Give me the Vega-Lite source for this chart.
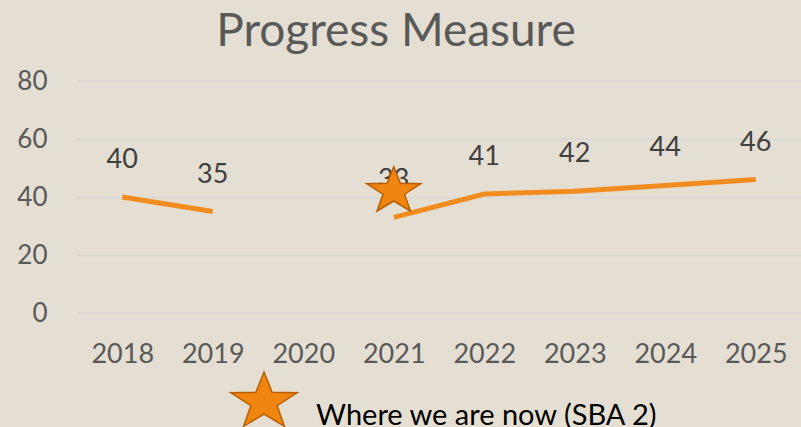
{
  "$schema": "https://vega.github.io/schema/vega-lite/v6.json",
  "autosize": "none",
  "width": 724,
  "height": 232,
  "padding": {"left": 77, "top": 81, "right": 0, "bottom": 114},
  "background": "#E4DED3",
  "config": {
    "view": {"stroke": null},
    "axis": {"labelFont": "Lato", "labelColor": "#595959", "labelFontSize": 26, "domain": false, "ticks": false, "title": null}
  },
  "title": {"text": "Progress Measure", "fontSize": 46, "font": "Lato", "fontWeight": "normal", "color": "#595959", "anchor": "middle", "dx": -43, "offset": 12},
  "data": {"values": [
      {"year": "2018", "value": 40, "seg": "a", "kind": "line", "series": "Progress"},
      {"year": "2019", "value": 35, "seg": "a", "kind": "line", "series": "Progress"},
      {"year": "2021", "value": 33, "seg": "b", "kind": "line", "series": "Progress"},
      {"year": "2022", "value": 41, "seg": "b", "kind": "line", "series": "Progress"},
      {"year": "2023", "value": 42, "seg": "b", "kind": "line", "series": "Progress"},
      {"year": "2024", "value": 44, "seg": "b", "kind": "line", "series": "Progress"},
      {"year": "2025", "value": 46, "seg": "b", "kind": "line", "series": "Progress"},
      {"year": "2021", "value": 42, "seg": "c", "kind": "star", "series": "Where we are now (SBA 2)"}
  ]},
  "encoding": {
    "x": {"field": "year", "type": "ordinal", "scale": {"type": "point", "domain": ["2018","2019","2020","2021","2022","2023","2024","2025"], "padding": 0.5},
      "axis": {"labelAngle": 0, "labelPadding": 28, "labelFontSize": 27, "grid": false}},
    "y": {"field": "value", "type": "quantitative", "scale": {"domain": [0, 80]},
      "axis": {"values": [0, 20, 40, 60, 80], "labelPadding": 30, "grid": true, "gridColor": "#D8D8D6", "gridWidth": 1.5}}
  },
  "layer": [
    {
      "transform": [{"filter": "datum.kind === 'line'"}],
      "mark": {"type": "line", "color": "#F28C1E", "strokeWidth": 5},
      "encoding": {"detail": {"field": "seg", "type": "nominal"}}
    },
    {
      "transform": [{"filter": "datum.kind === 'line'"}],
      "mark": {"type": "text", "dy": -37, "fontSize": 27, "color": "#404040", "font": "Lato"},
      "encoding": {"text": {"field": "value", "type": "quantitative"}}
    },
    {
      "transform": [{"filter": "datum.kind === 'star'"}],
      "mark": {"type": "point", "shape": "M0,-1L0.27,-0.324L1.1,-0.309L0.44,0.124L0.68,0.809L0,0.4L-0.68,0.809L-0.44,0.124L-1.1,-0.309L-0.27,-0.324Z", "filled": true, "size": 2400, "stroke": "#B85E00", "strokeWidth": 1.5, "opacity": 1},
      "encoding": {
        "color": {"field": "series", "type": "nominal", "scale": {"domain": ["Where we are now (SBA 2)"], "range": ["#F0850F"]},
          "legend": {"title": null, "orient": "none", "legendX": 156, "legendY": 290, "symbolSize": 3600, "symbolStrokeColor": "#B85E00", "symbolStrokeWidth": 1.5, "symbolOpacity": 1, "labelOffset": 21, "labelBaseline": "top", "labelFontSize": 29, "labelFont": "Lato", "labelColor": "#000000", "labelLimit": 450}}
      }
    }
  ]
}
